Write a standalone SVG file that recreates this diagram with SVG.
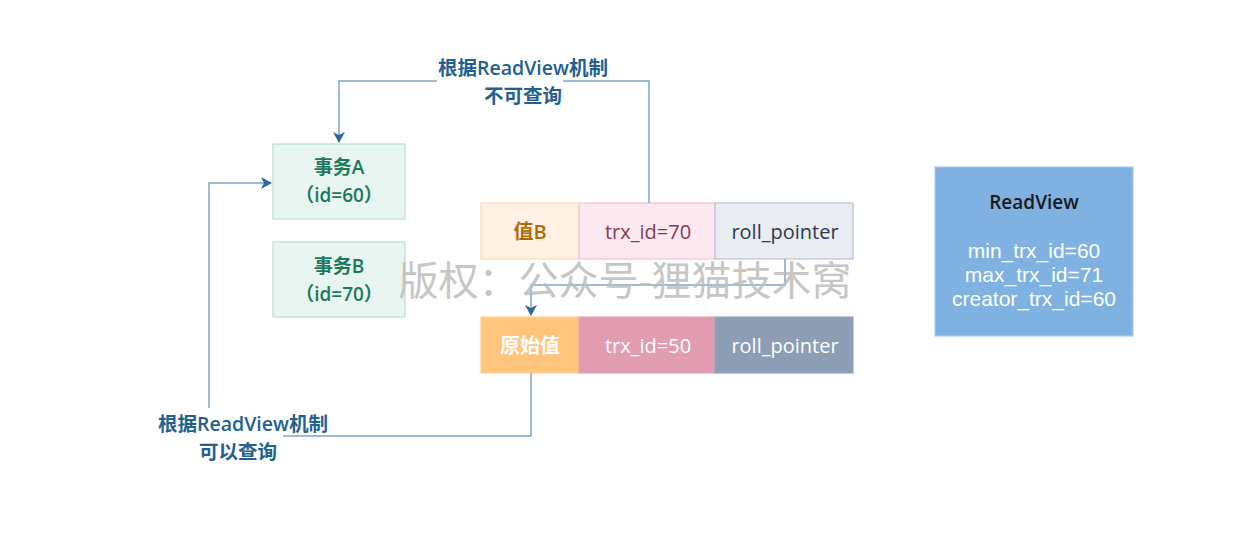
<svg xmlns="http://www.w3.org/2000/svg" width="1260" height="554" viewBox="0 0 1260 554">
<style>
text{font-family:"Open Sans","Noto Sans CJK SC",sans-serif;text-anchor:middle;dominant-baseline:central}
.tx{fill:#e8f5f0;stroke:#b7e0d1;stroke-width:1.2}
.txt{fill:#1b7a5c;font-size:19px;font-weight:600}
.cell{font-size:20px}
.rv{font-family:"Liberation Sans",Arial,sans-serif;font-size:21px;fill:#ffffff}
.conn{fill:none;stroke:#7fa5c2;stroke-width:1.5}
.lbl{fill:#22618f;font-size:19.5px;font-weight:600}
.wm{fill:#bdbdbd;font-size:40px;opacity:0.85}
</style>
<defs>
<marker id="arr" markerWidth="14" markerHeight="14" refX="10" refY="6" orient="auto" markerUnits="userSpaceOnUse">
<path d="M0,0 L11,6 L0,12 L3,6 Z" fill="#2a6aa0"/>
</marker>
</defs>
<rect width="1260" height="554" fill="#ffffff"/>
<g id="txA">
<rect class="tx" x="273" y="144" width="132" height="75"/>
<text class="txt" x="339" y="167">事务A</text>
<text class="txt" x="339" y="195">（id=60）</text>
</g>
<g id="txB">
<rect class="tx" x="273" y="242" width="132" height="75"/>
<text class="txt" x="339" y="266">事务B</text>
<text class="txt" x="339" y="294">（id=70）</text>
</g>
<g id="rowB">
<rect x="481" y="203" width="98" height="56" fill="#fff2e5" stroke="#fad9b3" stroke-width="1.2"/>
<text class="cell" x="530" y="231" fill="#b06a08" font-weight="600">值B</text>
<rect x="579" y="203" width="136" height="56" fill="#fbe9ef" stroke="#ecc3d0" stroke-width="1.2"/>
<text class="cell" x="648" y="231" fill="#8a3a55">trx_id=70</text>
<rect x="715" y="203" width="138" height="56" fill="#e9ecf1" stroke="#b9c3d1" stroke-width="1.2"/>
<text class="cell" x="785" y="231" fill="#2b3a52">roll_pointer</text>
</g>
<g id="rowOrig">
<rect x="481" y="317" width="98" height="56" fill="#ffc47e" stroke="#ffcf94" stroke-width="1.2"/>
<text class="cell" x="530" y="345" fill="#ffffff" font-weight="600">原始值</text>
<rect x="579" y="317" width="136" height="56" fill="#e29cb0" stroke="#e6a8ba" stroke-width="1.2"/>
<text class="cell" x="648" y="345" fill="#ffffff">trx_id=50</text>
<rect x="715" y="317" width="138" height="56" fill="#8d9db4" stroke="#97a6bb" stroke-width="1.2"/>
<text class="cell" x="785" y="345" fill="#ffffff">roll_pointer</text>
</g>
<g id="readview">
<rect x="935" y="167" width="198" height="169" fill="#7fb1e1" stroke="#a9c9ec" stroke-width="1.2"/>
<text x="1034" y="202" font-size="19" font-weight="600" fill="#1a1a1a">ReadView</text>
<text class="rv" x="1034" y="250">min_trx_id=60</text>
<text class="rv" x="1034" y="274">max_trx_id=71</text>
<text class="rv" x="1034" y="298">creator_trx_id=60</text>
</g>
<g id="connectors">
<path class="conn" d="M649,203 V81 H563"/>
<path class="conn" d="M437,81 H339 V142" marker-end="url(#arr)"/>
<path class="conn" d="M785,259 V285 H531 V315" marker-end="url(#arr)"/>
<path class="conn" d="M531,373 V436 H283"/>
<path class="conn" d="M209,408 V183 H271" marker-end="url(#arr)"/>
<text class="lbl" x="523" y="67">根据ReadView机制</text>
<text class="lbl" x="523" y="95">不可查询</text>
<text class="lbl" x="243" y="423">根据ReadView机制</text>
<text class="lbl" x="238" y="451">可以查询</text>
</g>
<text class="wm" x="625" y="279">版权：公众号-狸猫技术窝</text>
</svg>
